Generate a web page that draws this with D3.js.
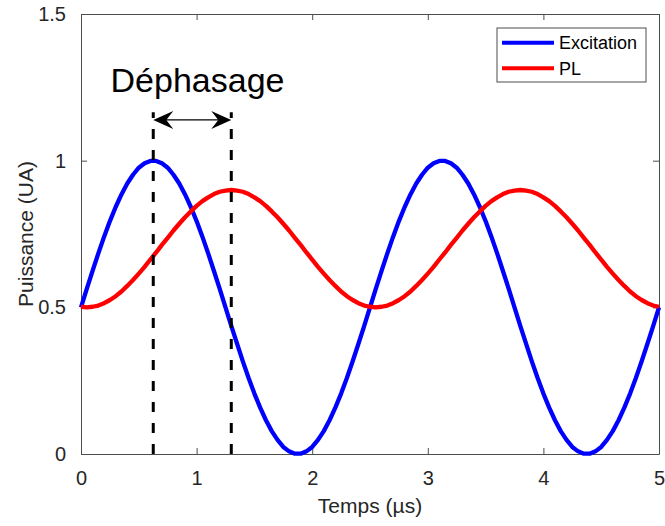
<!DOCTYPE html>
<html>
<head>
<meta charset="utf-8">
<script src="https://cdn.jsdelivr.net/npm/d3@7"></script>
<style>
  body { margin: 0; background: #fff; }
  text { font-family: "Liberation Sans", Arial, Helvetica, sans-serif; fill: #262626; }
</style>
</head>
<body>
<div id="chart"></div>
<script>
// time grid (µs)
let temps = [0,0.05,0.1,0.15,0.2,0.25,0.3,0.35,0.4,0.45,0.5,0.55,0.6,0.65,0.7,0.75,0.8,0.85,0.9,0.95,
	1,1.05,1.1,1.15,1.2,1.25,1.3,1.35,1.4,1.45,1.5,1.55,1.6,1.65,1.7,1.75,1.8,1.85,1.9,1.95,
	2,2.05,2.1,2.15,2.2,2.25,2.3,2.35,2.4,2.45,2.5,2.55,2.6,2.65,2.7,2.75,2.8,2.85,2.9,2.95,
	3,3.05,3.1,3.15,3.2,3.25,3.3,3.35,3.4,3.45,3.5,3.55,3.6,3.65,3.7,3.75,3.8,3.85,3.9,3.95,
	4,4.05,4.1,4.15,4.2,4.25,4.3,4.35,4.4,4.45,4.5,4.55,4.6,4.65,4.7,4.75,4.8,4.85,4.9,4.95,5];

let excitation = [0.5,0.563,0.624,0.684,0.741,0.794,0.842,0.885,0.922,0.952,0.976,0.991,0.999,0.999,0.991,0.976,0.952,0.922,0.885,0.842,
	0.794,0.741,0.684,0.624,0.563,0.5,0.437,0.376,0.316,0.259,0.206,0.158,0.115,0.078,0.048,0.024,0.009,0.001,0.001,0.009,
	0.024,0.048,0.078,0.115,0.158,0.206,0.259,0.316,0.376,0.437,0.5,0.563,0.624,0.684,0.741,0.794,0.842,0.885,0.922,0.952,
	0.976,0.991,0.999,0.999,0.991,0.976,0.952,0.922,0.885,0.842,0.794,0.741,0.684,0.624,0.563,0.5,0.437,0.376,0.316,0.259,
	0.206,0.158,0.115,0.078,0.048,0.024,0.009,0.001,0.001,0.009,0.024,0.048,0.078,0.115,0.158,0.206,0.259,0.316,0.376,0.437,0.5];

let pl = [0.502,0.5,0.502,0.506,0.514,0.525,0.538,0.554,0.573,0.593,0.615,0.638,0.663,0.687,0.713,0.737,0.762,0.785,0.807,0.827,
	0.846,0.862,0.875,0.886,0.894,0.898,0.9,0.898,0.894,0.886,0.875,0.862,0.846,0.827,0.807,0.785,0.762,0.737,0.713,0.687,
	0.663,0.638,0.615,0.593,0.573,0.554,0.538,0.525,0.514,0.506,0.502,0.5,0.502,0.506,0.514,0.525,0.538,0.554,0.573,0.593,
	0.615,0.638,0.663,0.687,0.713,0.737,0.762,0.785,0.807,0.827,0.846,0.862,0.875,0.886,0.894,0.898,0.9,0.898,0.894,0.886,
	0.875,0.862,0.846,0.827,0.807,0.785,0.762,0.737,0.713,0.687,0.663,0.638,0.615,0.593,0.573,0.554,0.538,0.525,0.514,0.506,0.502];

let seriesNames = ["Excitation", "PL"];
let seriesColors = ["#0000ff", "#ff0000"];
let xTicks = [0, 1, 2, 3, 4, 5];
let yTicks = [0, 0.5, 1, 1.5];

// phase-shift annotation (µs, UA)
let dephasage = [0.625, 1.3];
let dashTop = 1.165;
let arrowY = 1.139;

let width = 665, height = 526;
let margin = {top: 14, right: 6, bottom: 72, left: 81};

let svg = d3.select("#chart").append("svg")
	.attr("width", width)
	.attr("height", height);

let x = d3.scaleLinear().domain([0, 5]).range([margin.left, width - margin.right]);
let y = d3.scaleLinear().domain([0, 1.5]).range([height - margin.bottom, margin.top]);

let axisColor = "#4d4d4d";
let tickLen = 6;

// axes with inner ticks, MATLAB-like box
let gx = svg.append("g")
	.attr("transform", "translate(0," + y(0) + ")")
	.call(d3.axisBottom(x).tickValues(xTicks).tickSizeInner(-tickLen).tickSizeOuter(0).tickPadding(17).tickFormat(d3.format("")));
let gxTop = svg.append("g")
	.attr("transform", "translate(0," + y(1.5) + ")")
	.call(d3.axisTop(x).tickValues(xTicks).tickSizeInner(-tickLen).tickSizeOuter(0).tickFormat(""));
let gy = svg.append("g")
	.attr("transform", "translate(" + x(0) + ",0)")
	.call(d3.axisLeft(y).tickValues(yTicks).tickSizeInner(-tickLen).tickSizeOuter(0).tickPadding(15).tickFormat(d3.format("")));
let gyRight = svg.append("g")
	.attr("transform", "translate(" + x(5) + ",0)")
	.call(d3.axisRight(y).tickValues(yTicks).tickSizeInner(-tickLen).tickSizeOuter(0).tickFormat(""));

[gx, gxTop, gy, gyRight].forEach(function(g) {
	g.select(".domain").attr("stroke", axisColor);
	g.selectAll(".tick line").attr("stroke", axisColor);
	g.selectAll("text")
		.style("font-size", "20px")
		.style("fill", "#262626")
		.style("font-family", "'Liberation Sans', Arial, sans-serif");
});

svg.append("text")
	.attr("x", (x(0) + x(5)) / 2)
	.attr("y", 513)
	.attr("text-anchor", "middle")
	.style("font-size", "21px")
	.text("Temps (µs)");

svg.append("text")
	.attr("transform", "translate(33," + (y(0) + y(1.5)) / 2 + ") rotate(-90)")
	.attr("text-anchor", "middle")
	.style("font-size", "21px")
	.text("Puissance (UA)");

// curves
let line = d3.line()
	.x(function(d) { return x(d[0]); })
	.y(function(d) { return y(d[1]); });

let series = [excitation, pl];
series.forEach(function(vals, i) {
	svg.append("path")
		.datum(temps.map(function(t, k) { return [t, vals[k]]; }))
		.attr("d", line)
		.attr("fill", "none")
		.attr("stroke", seriesColors[i])
		.attr("stroke-width", 4.3)
		.attr("stroke-linejoin", "round");
});

// dashed markers, drawn from the bottom up
dephasage.forEach(function(t) {
	svg.append("line")
		.attr("x1", x(t)).attr("x2", x(t))
		.attr("y1", y(0)).attr("y2", y(dashTop))
		.attr("stroke", "#000")
		.attr("stroke-width", 3)
		.attr("stroke-dasharray", "10,11");
});

// double arrow
let ax1 = x(dephasage[0]), ax2 = x(dephasage[1]), ay = y(arrowY);
svg.append("line")
	.attr("x1", ax1 + 10).attr("x2", ax2 - 10)
	.attr("y1", ay).attr("y2", ay)
	.attr("stroke", "#000")
	.attr("stroke-width", 1.2);

function head(tipX, dir) {
	let L = 20, N = 13, W = 9;
	return "M" + tipX + "," + ay +
		"L" + (tipX + dir * L) + "," + (ay - W) +
		"L" + (tipX + dir * N) + "," + ay +
		"L" + (tipX + dir * L) + "," + (ay + W) + "Z";
}
svg.append("path").attr("d", head(ax1, 1)).attr("fill", "#000");
svg.append("path").attr("d", head(ax2, -1)).attr("fill", "#000");

svg.append("text")
	.attr("x", 197.5)
	.attr("y", 92)
	.attr("text-anchor", "middle")
	.style("font-size", "34px")
	.style("fill", "#000")
	.text("Déphasage");

// legend
let legend = svg.append("g").attr("transform", "translate(497,28)");
legend.append("rect")
	.attr("width", 149)
	.attr("height", 54)
	.attr("fill", "#fff")
	.attr("stroke", axisColor)
	.attr("stroke-width", 1);

let item = legend.selectAll(".item")
	.data(seriesNames)
	.enter().append("g")
	.attr("class", "item")
	.attr("transform", function(d, i) { return "translate(0," + (14.7 + i * 25.6) + ")"; });

item.append("line")
	.attr("x1", 5).attr("x2", 57)
	.attr("stroke", function(d, i) { return seriesColors[i]; })
	.attr("stroke-width", 4);

item.append("text")
	.attr("x", 62)
	.attr("dy", "0.35em")
	.style("font-size", "18px")
	.style("fill", "#000")
	.text(function(d) { return d; });
</script>
</body>
</html>
